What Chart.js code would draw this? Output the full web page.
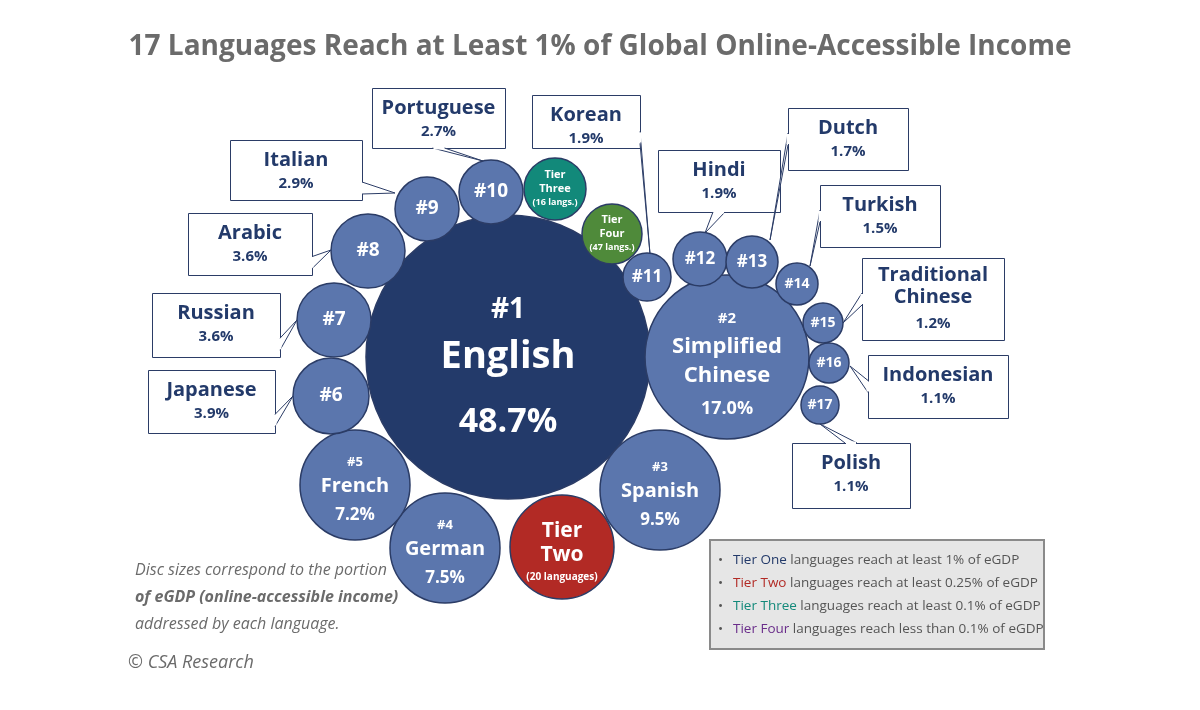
<!DOCTYPE html><html><head><meta charset="utf-8">
<script src="https://cdn.jsdelivr.net/npm/chart.js@4/dist/chart.umd.min.js"></script>
<style>html,body{margin:0;padding:0;background:#fff}#w{width:1200px;height:710px;position:relative}</style></head><body><div id="w"><canvas id="c" width="1200" height="710"></canvas></div>
<script>
const labels=["English","Simplified Chinese","Spanish","Tier Two","German","French","Japanese","Russian","Arabic","Italian","Portuguese","Tier Three","Tier Four","Korean","Hindi","Dutch","Turkish","Traditional Chinese","Indonesian","Polish"];
const shares=[48.7,17.0,9.5,null,7.5,7.2,3.9,3.6,3.6,2.9,2.7,null,null,1.9,1.9,1.7,1.5,1.2,1.1,1.1];
const ranks=["#1","#2","#3","","#4","#5","#6","#7","#8","#9","#10","","","#11","#12","#13","#14","#15","#16","#17"];
const posX=[508,727,660,562,445,355,331,334,368,427,491,555,612,647,700,752,797,823,829,820];
const posY=[357,357,490,547,548,485,396,320,251,209,192,189,234,277,259,262,284,323,363,405];
const radii=[142,82,60,52,55,55,38,37,37,32,32,31,30,24,27,26,21,20,20,19];
const tiers=[1,1,1,2,1,1,1,1,1,1,1,3,4,1,1,1,1,1,1,1];
const tierColors={1:"#5b76ad",2:"#b22a25",3:"#12897a",4:"#4f8a3a"};
const callouts=[[10,372,88,133,60,483,161],[13,532,95,108,53,650,254],[9,230,140,132,60,395,193],[8,188,213,124,62,331,250],[7,152,293,128,64,297,320],[6,148,370,127,63,293,396],[14,658,150,122,62,705,233],[15,788,108,120,62,770,240],[16,820,185,120,62,810,266],[17,862,258,142,82,843,323],[18,868,355,140,63,850,366],[19,792,443,118,65,820,424]];
const F='"Open Sans","Noto Sans",sans-serif';
const navy="#233a6a";
const BW=1.5, OV=Math.max(...radii)+BW;
const deco={id:"deco",afterDatasetsDraw(ch){const c=ch.ctx;const meta=ch.getDatasetMeta(0);
c.save();
callouts.forEach(([i,x,y,w,h,tx,ty])=>{c.strokeStyle="#2b3c66";c.lineWidth=1;
c.fillStyle="#fff";c.beginPath();c.rect(x+0.5,y+0.5,w,h);c.fill();c.stroke();
const cx=x+w/2;let bx=cx,by=y+h,vert=true;
if(tx<x){bx=x;by=y+h/2;vert=false;}else if(tx>x+w){bx=x+w;by=y+h*0.8;vert=false;}else if(ty<y){by=y;}
let a1,a2;
if(vert){a1=[bx-6,by];a2=[bx+6,by];}else{a1=[bx,by-6];a2=[bx,by+6];}
c.beginPath();c.moveTo(a1[0],a1[1]);c.lineTo(tx,ty);c.lineTo(a2[0],a2[1]);c.fillStyle="#fff";c.fill();c.stroke();
c.fillStyle="#fff";if(vert)c.fillRect(bx-5,by-1.5,10,3);else c.fillRect(bx-1.5,by-5,3,10);
c.fillStyle=navy;c.textAlign="center";c.textBaseline="middle";
const name=labels[i];
if(name==="Traditional Chinese"){c.font="bold 20px "+F;c.fillText("Traditional",cx,y+17);c.fillText("Chinese",cx,y+39);c.font="bold 15px "+F;c.fillText(shares[i].toFixed(1)+"%",cx,y+66);}
else{c.font="bold 20px "+F;c.fillText(name,cx,y+20);c.font="bold 15px "+F;c.fillText(shares[i].toFixed(1)+"%",cx,y+44);}
});
c.fillStyle="#fff";c.textAlign="center";c.textBaseline="middle";
meta.data.forEach((p,i)=>{const x=p.x,y=p.y,r=radii[i];
const t=(s,fs,dy)=>{c.font="bold "+fs+"px "+F;c.fillText(s,x,y+dy);};
if(i===0){t("#1",28,-47);t("English",38,0);t(shares[0].toFixed(1)+"%",34,65);}
else if(i===1){t("#2",15,-38);t("Simplified",22,-10);t("Chinese",22,19);t("17.0%",18,52);}
else if(i===2||i===4||i===5){t(ranks[i],13,-23);t(labels[i],20,1);t(shares[i].toFixed(1)+"%",17,30);}
else if(i===3){t("Tier",21,-16);t("Two",21,8);t("(20 languages)",10,30);}
else if(i===11){t("Tier",11,-14);t("Three",11,0);t("(16 langs.)",9,13);}
else if(i===12){t("Tier",11,-14);t("Four",11,0);t("(47 langs.)",9,13);}
else{t(ranks[i],r>30?19:(r>23?17:14),0);}
});
c.fillStyle="#6b6b6b";c.font="bold 28px "+F;c.fillText("17 Languages Reach at Least 1% of Global Online-Accessible Income",600,47);
c.textAlign="left";c.fillStyle="#6b6b6b";c.font="italic 16px "+F;
c.fillText("Disc sizes correspond to the portion",135,570);
c.font="bold italic 16px "+F;c.fillText("of eGDP (online-accessible income)",135,597);
c.font="italic 16px "+F;c.fillText("addressed by each language.",135,624);
c.font="italic 18px "+F;c.fillText("© CSA Research",128,663);
c.fillStyle="#e6e6e6";c.strokeStyle="#8a8a8a";c.lineWidth=2;c.fillRect(710,540,334,109);c.strokeRect(710,540,334,109);
const leg=[["Tier One",navy," languages reach at least 1% of eGDP"],["Tier Two","#b22a25"," languages reach at least 0.25% of eGDP"],["Tier Three","#12897a"," languages reach at least 0.1% of eGDP"],["Tier Four","#6a2d8a"," languages reach less than 0.1% of eGDP"]];
c.font="13.5px "+F;c.textBaseline="middle";
leg.forEach((l,k)=>{const y=560+k*23;c.fillStyle="#555";c.fillText("•",718,y);
c.fillStyle=l[1];c.fillText(l[0],733,y);const w=c.measureText(l[0]).width;c.fillStyle="#555";c.fillText(l[2],733+w,y);});
c.restore();}};
new Chart(document.getElementById("c"),{type:"bubble",
data:{datasets:[{data:labels.map((l,i)=>({x:posX[i],y:posY[i],r:radii[i]})),
backgroundColor:tiers.map((t,i)=>i===0?navy:tierColors[t]),borderColor:"#2b3c66",borderWidth:BW,clip:false}]},
options:{responsive:false,animation:false,layout:{padding:0},
plugins:{legend:{display:false},tooltip:{enabled:false}},
scales:{x:{type:"linear",min:OV,max:1200-OV,display:false},y:{type:"linear",min:OV,max:710-OV,reverse:true,display:false}}},
plugins:[deco]});
</script></body></html>
